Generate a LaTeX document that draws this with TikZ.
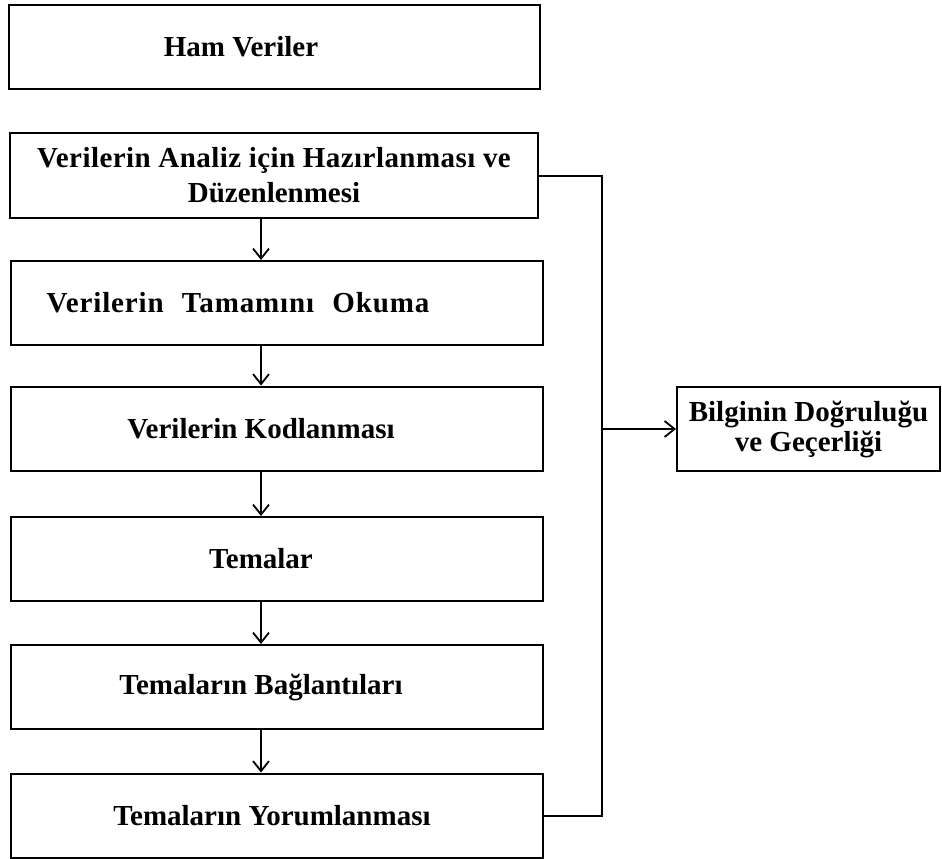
\documentclass[tikz,border=0pt]{standalone}
\usepackage{fontspec}
\setmainfont{Liberation Serif}
\usetikzlibrary{arrows.meta}
\tikzstyle{stage}=[draw, line width=2pt, minimum width=532pt, minimum height=84pt, inner sep=0pt, align=center, font=\bfseries\fontsize{29}{35}\selectfont]
\tikzstyle{check}=[stage, minimum width=263pt, font=\bfseries\fontsize{29}{30}\selectfont]
\tikzstyle{flow}=[line width=1.8pt, -{Straight Barb[length=10pt, width=16pt, line width=1.8pt]}]
\tikzstyle{link}=[line width=2pt]

\begin{document}
\begin{tikzpicture}[x=1pt, y=-1pt]
  \useasboundingbox (0, 0) rectangle (942, 859);
  \coordinate (axis) at (261, 0);
  \coordinate (bus) at (602, 0);
  \node[stage, minimum width=531pt] (ham) at (274.5, 47) {Ham Veriler\hspace*{67pt}};
  \node[stage, minimum width=528pt, minimum height=85pt] (hazir) at (274, 175.5)
    {\addfontfeature{LetterSpace=1.5}Verilerin Analiz için Hazırlanması ve\\Düzenlenmesi};
  \node[stage] (okuma) at (277, 303)
    {\addfontfeature{LetterSpace=3}Verilerin\hspace{10pt} Tamamını\hspace{10pt} Okuma\hspace*{78pt}};
  \node[stage] (kod) at (277, 428.5) {Verilerin Kodlanması\hspace*{32pt}};
  \node[stage] (tema) at (277, 559) {Temalar\hspace*{32pt}};
  \node[stage] (bag) at (277, 687) {Temaların Bağlantıları\hspace*{32pt}};
  \node[stage] (yorum) at (277, 815.5) {Temaların Yorumlanması\hspace*{10pt}};
  \node[check] (bilgi) at (808.5, 429) {Bilginin Doğruluğu\\ve Geçerliği};
  \foreach \a/\b in {hazir/okuma, okuma/kod, kod/tema, tema/bag, bag/yorum}
    \draw[flow] (\a.south -| axis) -- (\b.north -| axis);
  \draw[link] (hazir.east) -| (bus |- yorum.east) -- (yorum.east);
  \draw[flow] (bus |- bilgi.west) -- (bilgi.west);
\end{tikzpicture}
\end{document}
